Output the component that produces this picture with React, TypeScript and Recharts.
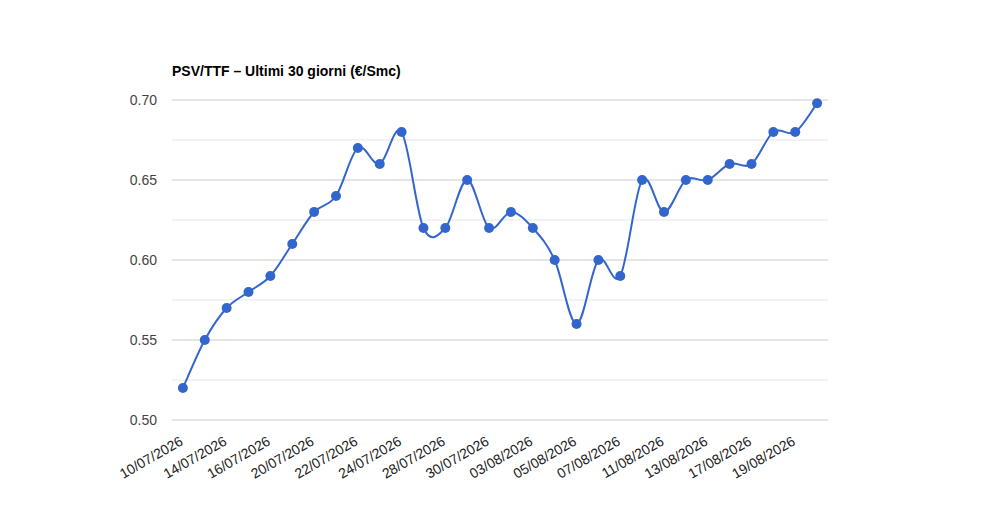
import React from "react";
import { LineChart, Line, XAxis, YAxis, CartesianGrid, ReferenceLine } from "recharts";

const categories = [
  "10/07/2026", "13/07/2026", "14/07/2026", "15/07/2026", "16/07/2026", "17/07/2026",
  "20/07/2026", "21/07/2026", "22/07/2026", "23/07/2026", "24/07/2026", "27/07/2026",
  "28/07/2026", "29/07/2026", "30/07/2026", "31/07/2026", "03/08/2026", "04/08/2026",
  "05/08/2026", "06/08/2026", "07/08/2026", "10/08/2026", "11/08/2026", "12/08/2026",
  "13/08/2026", "14/08/2026", "17/08/2026", "18/08/2026", "19/08/2026", "20/08/2026",
];

const prices = [
  0.52, 0.55, 0.57, 0.58, 0.59, 0.61, 0.63, 0.64, 0.67, 0.66,
  0.68, 0.62, 0.62, 0.65, 0.62, 0.63, 0.62, 0.60, 0.56, 0.60,
  0.59, 0.65, 0.63, 0.65, 0.65, 0.66, 0.66, 0.68, 0.68, 0.698,
];

const majorTicks = [0.5, 0.55, 0.6, 0.65, 0.7];
const minorTicks = [0.525, 0.575, 0.625, 0.675];

const title = "PSV/TTF – Ultimi 30 giorni (€/Smc)";

const data = categories.map((d, i) => ({ date: d, value: prices[i] }));

// Catmull-Rom (cardinal, tension 0) curve factory
const smoothCurve: any = (context: any) => {
  let pts: [number, number][] = [];
  return {
    areaStart() {},
    areaEnd() {},
    lineStart() {
      pts = [];
    },
    point(x: number, y: number) {
      pts.push([+x, +y]);
    },
    lineEnd() {
      const n = pts.length;
      if (!n) return;
      context.moveTo(pts[0][0], pts[0][1]);
      for (let i = 0; i < n - 1; i++) {
        const p0 = pts[Math.max(0, i - 1)];
        const p1 = pts[i];
        const p2 = pts[i + 1];
        const p3 = pts[Math.min(n - 1, i + 2)];
        const c1x = p1[0] + (p2[0] - p0[0]) / 6;
        const c1y = p1[1] + (p2[1] - p0[1]) / 6;
        const c2x = p2[0] - (p3[0] - p1[0]) / 6;
        const c2y = p2[1] - (p3[1] - p1[1]) / 6;
        context.bezierCurveTo(c1x, c1y, c2x, c2y, p2[0], p2[1]);
      }
    },
  };
};

const FONT = "Arial, 'Liberation Sans', sans-serif";

const XTick = (props: any) => {
  const { x, y, payload } = props;
  const tx = x + 1;
  const ty = y + 24;
  return (
    <text
      x={tx}
      y={ty}
      textAnchor="end"
      transform={`rotate(-30, ${tx}, ${ty})`}
      fontFamily={FONT}
      fontSize={14}
      fill="#222222"
    >
      {payload.value}
    </text>
  );
};

export default function App() {
  return (
    <div style={{ position: "relative", width: 1000, height: 520, background: "#ffffff" }}>
      <style>{"body{margin:0}"}</style>
      <div
        style={{
          position: "absolute",
          left: 172,
          top: 63,
          fontFamily: FONT,
          fontSize: 14,
          lineHeight: "16px",
          fontWeight: "bold",
          color: "#000000",
          whiteSpace: "nowrap",
        }}
      >
        {title}
      </div>
      <LineChart
        width={1000}
        height={520}
        data={data}
        margin={{ top: 100, right: 172, bottom: 20, left: 112 }}
      >
        {minorTicks.map((v) => (
          <ReferenceLine key={v} y={v} stroke="#e6e6e6" strokeWidth={1} ifOverflow="extendDomain" />
        ))}
        <CartesianGrid vertical={false} stroke="#cccccc" strokeDasharray="" />
        <XAxis
          dataKey="date"
          interval={1}
          axisLine={false}
          tickLine={false}
          tickSize={0}
          tickMargin={0}
          height={80}
          padding={{ left: 10.9, right: 10.9 }}
          tick={<XTick />}
        />
        <YAxis
          domain={[0.5, 0.7]}
          ticks={majorTicks}
          width={60}
          axisLine={false}
          tickLine={false}
          tickSize={0}
          tickMargin={15}
          tickFormatter={(v: number) => v.toFixed(2)}
          tick={{ fontFamily: FONT, fontSize: 14, fill: "#444444" }}
        />
        <Line
          dataKey="value"
          type={smoothCurve}
          stroke="#3366cc"
          strokeWidth={2}
          dot={{ r: 5, fill: "#3366cc", stroke: "none" }}
          activeDot={false}
          isAnimationActive={false}
        />
      </LineChart>
    </div>
  );
}
